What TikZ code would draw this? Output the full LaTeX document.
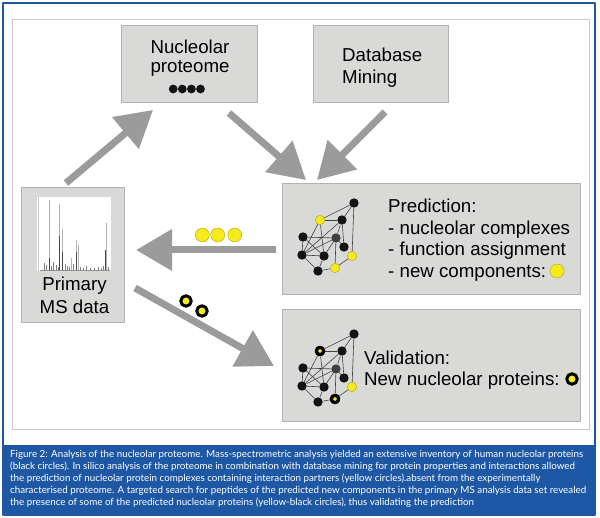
\documentclass[tikz,border=0pt]{standalone}
\usepackage{fontspec}
\setmainfont{Liberation Sans}
\newfontfamily\capfont{Lato}
\usetikzlibrary{arrows.meta}

\definecolor{frameblue}{RGB}{30,88,165}
\definecolor{boxfill}{RGB}{217,218,216}
\definecolor{boxline}{RGB}{178,178,178}
\definecolor{arrgray}{RGB}{155,155,155}
\definecolor{protyel}{RGB}{246,233,28}
\definecolor{spikegray}{RGB}{70,70,70}

\begin{document}
\begin{tikzpicture}[x=1pt, y=-1pt, line join=round,
  box/.style={draw=boxline, fill=boxfill, line width=0.8pt, inner sep=0pt},
  lbl/.style={anchor=base west, inner sep=0pt, font=\fontsize{18.7}{21.7}\selectfont},
  clbl/.style={lbl, anchor=base},
  fat/.style={draw=arrgray, line width=7pt, -{Triangle[length=36pt,width=40pt]}},
  bnode/.style={circle, fill=black!92, inner sep=0pt, minimum size=9.4pt},
  ynode/.style={circle, fill=protyel, draw=protyel!70!black, line width=0.4pt, inner sep=0pt, minimum size=9.4pt},
  ybnode/.style={circle, fill=protyel, draw=black, line width=3.3pt, inner sep=0pt, minimum size=7.4pt},
  bigy/.style={ynode, minimum size=14pt},
  bigyb/.style={ybnode, line width=3pt, minimum size=10.5pt},
  link/.style={draw=black!75, line width=0.6pt},
  caption/.style={anchor=north west, inner sep=0pt, align=left, text=white,
    font=\capfont\fontsize{9.8}{11.8}\selectfont}]

  %% ════ frame, panel, caption band ════
  \fill[white] (0,0) rectangle (600,518);
  \fill[frameblue] (3,445) rectangle (595,515);
  \draw[frameblue, line width=2pt] (3,3) rectangle (595,515);
  \draw[boxline!70, line width=0.8pt] (12,19) rectangle (589,429);

  %% ════ boxes ════
  \node[box, minimum width=136pt, minimum height=77pt] (nucl) at (189,63.5) {};
  \node[box, minimum width=135pt, minimum height=77pt] (dbm) at (380.5,63.5) {};
  \node[box, minimum width=103pt, minimum height=135pt] (prim) at (72.5,254.5) {};
  \node[box, minimum width=298pt, minimum height=111pt] (pred) at (431,238.5) {};
  \node[box, minimum width=298pt, minimum height=112pt] (vali) at (431,365) {};

  %% ════ box texts ════
  \node[clbl] (nuc1) at (190,54) {Nucleolar};
  \node[clbl] (nuc2) at (190,73) {proteome};
  \foreach \i/\px in {1/173.2, 2/182.3, 3/191.4, 4/200.5}
    \node[bnode, minimum size=8.8pt] (dot\i) at (\px,89) {};
  \node[lbl] (db1) at (342,62) {Database};
  \node[lbl] (db2) at (342,84) {Mining};
  \node[clbl] (pm1) at (74.5,291) {Primary};
  \node[clbl] (pm2) at (74.5,313.5) {MS data};
  \node[lbl] (pd1) at (388,213) {Prediction:};
  \node[lbl] (pd2) at (388,234.5) {- nucleolar complexes};
  \node[lbl] (pd3) at (388,256) {- function assignment};
  \node[lbl] (pd4) at (388,277.5) {- new components:};
  \node[bigy] (newc) at (557,271) {};
  \node[lbl] (va1) at (364,365) {Validation:};
  \node[lbl] (va2) at (364,385.5) {New nucleolar proteins:};
  \node[bigyb] (newp) at (572,379) {};

  %% ════ MS spectrum ════
  \fill[white] (37,197) rectangle (111,271);
  \draw[black!20, line width=0.6pt] (38,197) -- (38,271);
  \foreach \px/\py in {49/200, 59/204, 62/229, 76/240, 78/245, 106/223, 71/258}
    \draw[black!30, line width=0.8pt] (\px,271) -- (\px,\py);
  \foreach \px/\py in {49.6/258, 59.6/236, 62.6/252, 76.6/252, 105.4/250}
    \draw[spikegray, line width=0.6pt] (\px,271) -- (\px,\py);
  \foreach \px/\py in {44/263, 46/265, 51/266, 53/262, 56/265, 58/267, 65/264, 67/266, 69/267,
                       73/264, 80/267, 83/268, 86/266, 90/268, 94/268, 98/267, 101/268, 103/266, 108/267}
    \draw[spikegray!70, line width=0.5pt] (\px,271) -- (\px,\py);
  \draw[spikegray!60, line width=0.5pt] (40,270.5) -- (110,270.5);

  %% ════ networks (prediction / validation) ════
  \foreach \dy/\tg/\nw in {0/p/ynode, 131/v/ybnode} {
    \begin{scope}[shift={(0,\dy)}]
      \node[bnode] (\tg A) at (354,203) {};
      \node[\nw]   (\tg B) at (320,220) {};
      \node[bnode] (\tg C) at (342,220) {};
      \node[bnode] (\tg D) at (303,237) {};
      \node[bnode, fill=black!75] (\tg E) at (336,238) {};
      \node[bnode] (\tg F) at (344,247) {};
      \node[bnode] (\tg G) at (302,255) {};
      \node[bnode] (\tg H) at (324,256) {};
      \node[ynode] (\tg I) at (352,256) {};
      \node[bnode] (\tg J) at (318,271) {};
      \node[\nw]   (\tg K) at (335,268) {};
    \end{scope}
    \foreach \a/\b in {A/B, A/C, A/I, B/C, B/G, B/H, C/G, C/E, D/E, D/G, D/H, E/G, E/H,
                       E/K, E/F, G/H, G/J, H/J, J/K, K/I, C/F}
      \draw[link] (\tg\a) -- (\tg\b);
  }

  %% ════ fat arrows ════
  \coordinate (fromprim) at (66,183);   \coordinate (tonucl) at (153,110);
  \coordinate (fromnucl) at (229,113);  \coordinate (topred1) at (306,180);
  \coordinate (fromdb) at (385,112);    \coordinate (topred2) at (317,180);
  \coordinate (frompred) at (276,250);  \coordinate (toprim) at (136,250);
  \coordinate (fromprim2) at (135,288); \coordinate (tovali) at (274,366);
  \draw[fat] (fromprim) -- (tonucl);
  \draw[fat] (fromnucl) -- (topred1);
  \draw[fat] (fromdb) -- (topred2);
  \draw[fat] (frompred) -- (toprim);
  \draw[fat] (fromprim2) -- (tovali);

  %% ════ travelling proteins ════
  \foreach \i/\px in {1/202.3, 2/217.7, 3/234.7}
    \node[bigy] (trav\i) at (\px,235) {};
  \node[bigyb] (found1) at (186,301) {};
  \node[bigyb] (found2) at (202,311) {};

  %% ════ caption ════
  \node[caption] (capt) at (10,450.5) {Figure 2: Analysis of the nucleolar proteome. Mass-spectrometric analysis yielded an extensive inventory of human nucleolar proteins\\
(black circles). In silico analysis of the proteome in combination with database mining for protein properties and interactions allowed\\
the prediction of nucleolar protein complexes containing interaction partners (yellow circles).absent from the experimentally\\
characterised proteome. A targeted search for peptides of the predicted new components in the primary MS analysis data set revealed\\
the presence of some of the predicted nucleolar proteins (yellow-black circles), thus validating the prediction};

  \pgfresetboundingbox
  \path[use as bounding box] (0,0) rectangle (600,518);
\end{tikzpicture}
\end{document}
